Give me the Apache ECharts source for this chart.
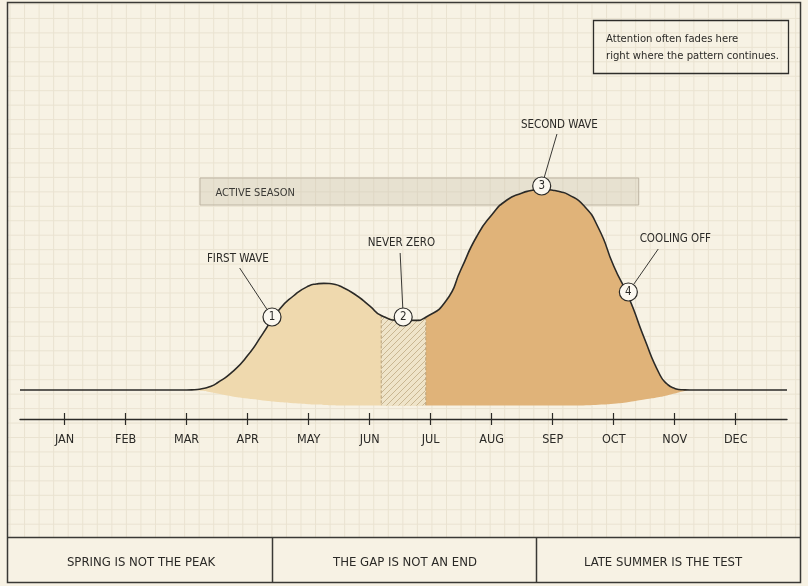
<!DOCTYPE html>
<html>
<head>
<meta charset="utf-8">
<style>
  html, body { margin: 0; padding: 0; background: #f7f2e4; }
  #chart { width: 808px; height: 586px; }
</style>
<script src="https://cdn.jsdelivr.net/npm/echarts@6/dist/echarts.min.js"></script>
</head>
<body>
<div id="chart"></div>
<script>
(function() {
  // month positions (1 = Jan) and the upper / lower edge of the season shape
  var months = [0.27, 1, 2, 3, 3.125, 3.25, 3.375, 3.5, 3.75, 4, 4.25, 4.5, 4.75, 5, 5.125, 5.25,
    5.375, 5.5, 5.75, 6, 6.19, 6.5, 6.75, 6.92, 7.25, 7.5, 7.75, 8, 8.25, 8.5, 8.625, 8.75,
    8.875, 9, 9.125, 9.25, 9.5, 9.75, 10, 10.25, 10.5, 10.75, 10.875, 11, 11.125, 11.25, 12, 12.84];
  var upper = [0, 0, 0, 0, 0.1, 0.6, 1.6, 3.5, 9.1, 17.2, 28.2, 39.5, 47, 52, 53, 53.3,
    53.1, 52.1, 48, 42.1, 37.3, 34.9, 34.8, 36.4, 44.5, 60.5, 76.5, 87.5, 95, 98.5, 99.6, 100.2,
    100.3, 99.9, 99.1, 97.8, 92.5, 81, 62, 46, 26, 8, 3, 0.8, 0.1, 0, 0, 0];
  var lower = [0, 0, 0, 0, -0.1, -0.4, -1, -1.8, -3.2, -4.3, -5.2, -6, -6.6, -7.1, -7.3, -7.5,
    -7.6, -7.7, -7.8, -7.8, -7.8, -7.8, -7.8, -7.8, -7.8, -7.8, -7.8, -7.8, -7.8, -7.8, -7.8, -7.8,
    -7.8, -7.8, -7.8, -7.8, -7.7, -7.4, -6.9, -6, -4.8, -3.5, -2.7, -1.8, -0.8, 0, 0, 0];

  var monthLabels = ['JAN', 'FEB', 'MAR', 'APR', 'MAY', 'JUN', 'JUL', 'AUG', 'SEP', 'OCT', 'NOV', 'DEC'];
  var monthTicks = [1, 2, 3, 4, 5, 6, 7, 8, 9, 10, 11, 12];

  var gapRange = [6.19, 6.92];          // hatched "never zero" stretch
  var secondWaveFrom = 6.92;
  var activeSeason = [3.22, 10.41];
  var activeBand = [92.5, 106];

  var callouts = [
    { num: '1', text: 'FIRST WAVE', at: [4.40, 36.5], label: [3.84, 65.5], tip: [3.87, 61] },
    { num: '2', text: 'NEVER ZERO', at: [6.55, 36.5], label: [6.52, 73.5], tip: [6.50, 68.5] },
    { num: '3', text: 'SECOND WAVE', at: [8.82, 102], label: [9.11, 132.5], tip: [9.07, 128] },
    { num: '4', text: 'COOLING OFF', at: [10.24, 49], label: [11.01, 75.5], tip: [10.73, 70.5] }
  ];

  var panelTexts = ['SPRING IS NOT THE PEAK', 'THE GAP IS NOT AN END', 'LATE SUMMER IS THE TEST'];
  var noteLines = ['Attention often fades here', 'right where the pattern continues.'];

  var FONT = "'Liberation Sans Narrow', 'DejaVu Sans Condensed', Roboto, sans-serif";
  var ink = '#2b2a27';
  var bg = '#f7f2e4';
  var SMOOTH = 0.6;

  // diagonal hatch pattern
  var hatch = document.createElement('canvas');
  hatch.width = 6; hatch.height = 6;
  var g = hatch.getContext('2d');
  g.fillStyle = '#efe4c9'; g.fillRect(0, 0, 6, 6);
  g.strokeStyle = '#bfa983'; g.lineWidth = 0.8;
  g.beginPath();
  g.moveTo(0, 6); g.lineTo(6, 0);
  g.moveTo(-1, 1); g.lineTo(1, -1);
  g.moveTo(5, 7); g.lineTo(7, 5);
  g.stroke();

  // paper grid + frame
  var graphics = [];
  for (var x = 10; x < 800; x += 14.55) {
    graphics.push({ type: 'line', z: 0, silent: true,
      shape: { x1: x, y1: 3, x2: x, y2: 537 }, style: { stroke: '#eae3d1', lineWidth: 1 } });
  }
  for (var y = 4; y < 537; y += 14.45) {
    graphics.push({ type: 'line', z: 0, silent: true,
      shape: { x1: 8, y1: y, x2: 800, y2: y }, style: { stroke: '#eae3d1', lineWidth: 1 } });
  }
  graphics.push({ type: 'rect', z: 20, shape: { x: 7.5, y: 2.5, width: 793, height: 580 },
    style: { fill: null, stroke: '#3a3935', lineWidth: 1.5 } });
  graphics.push({ type: 'line', z: 20, shape: { x1: 7.5, y1: 537.5, x2: 800.5, y2: 537.5 },
    style: { stroke: '#3a3935', lineWidth: 1.5 } });
  [272.5, 536.5].forEach(function(px) {
    graphics.push({ type: 'line', z: 20, shape: { x1: px, y1: 537.5, x2: px, y2: 582.5 },
      style: { stroke: '#3a3935', lineWidth: 1.5 } });
  });
  [141, 405, 663].forEach(function(cx, i) {
    graphics.push({ type: 'text', z: 20, x: cx, y: 562.5,
      style: { text: panelTexts[i], fill: ink, font: '500 13px ' + FONT, align: 'center', verticalAlign: 'middle' } });
  });
  graphics.push({ type: 'rect', z: 20, shape: { x: 593.5, y: 20.5, width: 195, height: 53 },
    style: { fill: null, stroke: '#2e2d2a', lineWidth: 1.3 } });
  noteLines.forEach(function(t, i) {
    graphics.push({ type: 'text', z: 20, x: 606, y: 39 + i * 17,
      style: { text: t, fill: ink, font: '11.2px ' + FONT, align: 'left', verticalAlign: 'middle' } });
  });

  // stacked series keep the value first so ECharts stacks it (not the month)
  function stackPair(vals) {
    return months.map(function(m, i) { return [vals[i], m]; });
  }

  var chart = echarts.init(document.getElementById('chart'));
  chart.setOption({
    animation: false,
    backgroundColor: bg,
    grid: { left: 20, right: 21, top: 150, bottom: 167 },
    xAxis: [{
      type: 'value', min: 0.27, max: 12.84, position: 'bottom',
      axisLine: { onZero: false, lineStyle: { color: ink, width: 1.4 } },
      axisTick: { show: true, customValues: monthTicks, length: 6, lineStyle: { color: ink, width: 1.2 } },
      axisLabel: {
        customValues: monthTicks, margin: 14,
        formatter: function(v) { return monthLabels[Math.round(v) - 1]; },
        color: ink, fontFamily: FONT, fontSize: 12.5, fontWeight: 500
      },
      splitLine: { show: false }
    }, {
      type: 'value', min: 0.27, max: 12.84, position: 'bottom',
      axisLine: { show: false, onZero: false },
      axisTick: { show: true, inside: true, customValues: monthTicks, length: 6, lineStyle: { color: ink, width: 1.2 } },
      axisLabel: { show: false },
      splitLine: { show: false }
    }],
    yAxis: { type: 'value', min: -14.5, max: 120, show: false },
    visualMap: {
      show: false, type: 'piecewise', seriesIndex: 1, dimension: 1,
      pieces: [
        { gte: 0, lt: secondWaveFrom, color: '#efd9ae' },
        { gte: secondWaveFrom, lte: 13, color: '#e0b379' }
      ]
    },
    graphic: graphics,
    series: [
      {
        type: 'line', z: 1, stack: 'season', stackStrategy: 'all', smooth: SMOOTH, symbol: 'none', silent: true,
        encode: { x: 1, y: 0 },
        lineStyle: { width: 0 },
        data: stackPair(lower),
        markArea: {
          silent: true,
          itemStyle: { color: 'rgba(205,196,176,0.38)', borderColor: '#bdb4a2', borderWidth: 1 },
          label: { show: true, position: 'insideLeft', offset: [11, 2], color: '#3b3a36',
            fontFamily: FONT, fontSize: 11, fontWeight: 500 },
          data: [[
            { name: 'ACTIVE SEASON', xAxis: activeSeason[0], yAxis: activeBand[0] },
            { xAxis: activeSeason[1], yAxis: activeBand[1] }
          ]]
        }
      },
      {
        type: 'line', z: 2, stack: 'season', stackStrategy: 'all', smooth: SMOOTH, symbol: 'none', silent: true,
        encode: { x: 1, y: 0 },
        lineStyle: { width: 0 },
        areaStyle: { opacity: 1 },
        data: stackPair(upper.map(function(v, i) { return v - lower[i]; }))
      },
      {
        type: 'custom', z: 3, silent: true,
        data: [[gapRange[0], 0]],
        renderItem: function(params, api) {
          var top = [], bottom = [];
          months.forEach(function(m, i) {
            if (m >= gapRange[0] && m <= gapRange[1]) {
              top.push(api.coord([m, upper[i]]));
              bottom.unshift(api.coord([m, lower[i]]));
            }
          });
          var pts = top.concat(bottom);
          var l0 = top[0], l1 = bottom[bottom.length - 1];
          var r0 = top[top.length - 1], r1 = bottom[0];
          var edge = { stroke: '#b7a07a', lineWidth: 1, lineDash: [3, 2] };
          return {
            type: 'group',
            children: [
              { type: 'polygon', shape: { points: pts }, style: { fill: { image: hatch, repeat: 'repeat' } } },
              { type: 'line', shape: { x1: l0[0], y1: l0[1], x2: l1[0], y2: l1[1] }, style: edge },
              { type: 'line', shape: { x1: r0[0], y1: r0[1], x2: r1[0], y2: r1[1] }, style: edge }
            ]
          };
        }
      },
      {
        type: 'line', z: 4, smooth: SMOOTH, symbol: 'none', silent: true,
        lineStyle: { color: ink, width: 1.6 },
        data: months.map(function(m, i) { return [m, upper[i]]; })
      },
      {
        type: 'custom', z: 5, silent: true, clip: false,
        data: callouts.map(function(c) { return c.at; }),
        renderItem: function(params, api) {
          var c = callouts[params.dataIndex];
          var p = api.coord(c.at), t = api.coord(c.tip), lb = api.coord(c.label);
          var dx = t[0] - p[0], dy = t[1] - p[1], d = Math.sqrt(dx * dx + dy * dy);
          var r = 9;
          return {
            type: 'group',
            children: [
              { type: 'line', shape: { x1: p[0] + dx / d * r, y1: p[1] + dy / d * r, x2: t[0], y2: t[1] },
                style: { stroke: '#3a3935', lineWidth: 1 } },
              { type: 'circle', shape: { cx: p[0], cy: p[1], r: r },
                style: { fill: '#fbf8f0', stroke: ink, lineWidth: 1.2 } },
              { type: 'text', x: p[0], y: p[1] + 0.5,
                style: { text: c.num, fill: ink, font: '500 11.5px ' + FONT, align: 'center', verticalAlign: 'middle' } },
              { type: 'text', x: lb[0], y: lb[1],
                style: { text: c.text, fill: ink, font: '500 11.5px ' + FONT, align: 'center', verticalAlign: 'middle' } }
            ]
          };
        }
      }
    ]
  });
  window.addEventListener('resize', function() { chart.resize(); });
})();
</script>
</body>
</html>
